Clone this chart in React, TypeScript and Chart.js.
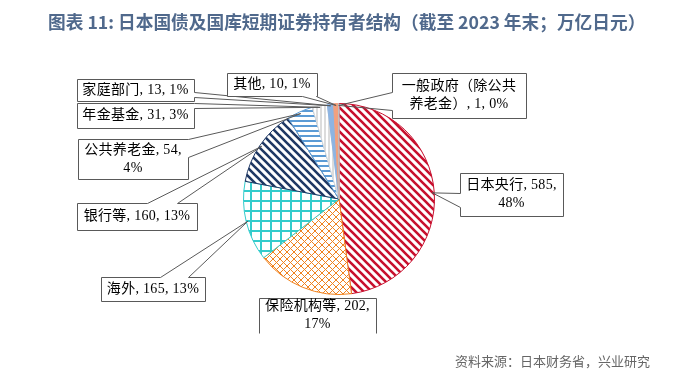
import React, { useEffect, useRef } from 'react';
import { Chart, registerables } from 'chart.js';

Chart.register(...registerables);

// ---- data ----
const categories = [
  '日本央行',
  '保险机构等',
  '海外',
  '银行等',
  '公共养老金',
  '年金基金',
  '家庭部门',
  '其他',
  '一般政府（除公共养老金）',
];
const values = [585, 202, 165, 160, 54, 31, 13, 10, 1];
const percentLabels = ['48%', '17%', '13%', '13%', '4%', '3%', '1%', '1%', '0%'];

const TITLE = '图表 11: 日本国债及国库短期证券持有者结构（截至 2023 年末；万亿日元）';
const SOURCE = '资料来源：日本财务省，兴业研究';

// ---- styles ----
type PatternKind = 'diagDown' | 'crossDiag' | 'grid' | 'hstripe' | 'vstripe' | 'solid';
const sliceStyles: { kind: PatternKind; color: string }[] = [
  { kind: 'diagDown', color: '#C8102E' },
  { kind: 'crossDiag', color: '#F0821E' },
  { kind: 'grid', color: '#33CCCC' },
  { kind: 'diagDown', color: '#1F3864' },
  { kind: 'hstripe', color: '#5B9BD5' },
  { kind: 'vstripe', color: '#DCDCDC' },
  { kind: 'solid', color: '#8DB4E2' },
  { kind: 'solid', color: '#F2A07E' },
  { kind: 'solid', color: '#BFBFBF' },
];

type Side = 'left' | 'right' | 'top' | 'bottom' | null;
const callouts: {
  box: [number, number, number, number];
  side: Side;
  base?: [number, number];
  split: null | 'pct' | number;
  openBottom?: boolean;
}[] = [
  { box: [460, 173, 563, 216], side: 'left', base: [193, 207], split: 'pct' },
  { box: [259, 298, 376, 333], side: null, split: 'pct', openBottom: true },
  { box: [101, 277, 205, 301], side: 'top', base: [160, 188], split: null },
  { box: [77, 203, 197, 230], side: 'top', base: [147, 177], split: null },
  { box: [78, 139, 188, 179], side: 'right', base: [139, 157], split: 'pct' },
  { box: [77, 103, 194, 128], side: 'right', base: [103, 108], split: null },
  { box: [77, 79, 194, 101], side: 'right', base: [92, 97], split: null },
  { box: [227, 73, 317, 96], side: 'bottom', base: [302, 316], split: null },
  { box: [392, 73, 526, 118], side: 'left', base: [92, 110], split: 8 },
];

function labelLines(i: number): string[] {
  const full = `${categories[i]}, ${values[i]}, ${percentLabels[i]}`;
  const sp = callouts[i].split;
  if (sp === 'pct') return [`${categories[i]}, ${values[i]},`, percentLabels[i]];
  if (typeof sp === 'number') return [full.slice(0, sp), full.slice(sp)];
  return [full];
}

function makePattern(kind: PatternKind, fg: string): CanvasPattern | string {
  if (kind === 'solid') return fg;
  const c = document.createElement('canvas');
  let s = 8;
  if (kind === 'crossDiag') s = 7;
  if (kind === 'grid') s = 10;
  if (kind === 'hstripe') s = 5;
  if (kind === 'vstripe') s = 4;
  c.width = s;
  c.height = s;
  const g = c.getContext('2d')!;
  g.fillStyle = '#ffffff';
  g.fillRect(0, 0, s, s);
  g.strokeStyle = fg;
  g.fillStyle = fg;
  if (kind === 'diagDown') {
    g.lineWidth = 2.6;
    g.beginPath();
    for (let k = -1; k <= 1; k++) {
      g.moveTo(k * s - 1, -1);
      g.lineTo(k * s + s + 1, s + 1);
    }
    g.stroke();
  } else if (kind === 'crossDiag') {
    g.lineWidth = 1;
    g.beginPath();
    for (let k = -1; k <= 1; k++) {
      g.moveTo(k * s - 1, -1);
      g.lineTo(k * s + s + 1, s + 1);
      g.moveTo(k * s - 1, s + 1);
      g.lineTo(k * s + s + 1, -1);
    }
    g.stroke();
  } else if (kind === 'grid') {
    g.fillRect(0, 0, 2, s);
    g.fillRect(0, 0, s, 2);
  } else if (kind === 'hstripe') {
    g.fillRect(0, 0, s, 2);
  } else if (kind === 'vstripe') {
    g.fillRect(0, 0, 2, s);
  }
  return g.createPattern(c, 'repeat')!;
}

const LABEL_FONT = "14px 'Liberation Serif', 'Noto Sans CJK SC', serif";

const overlayPlugin = {
  id: 'overlay',
  afterDraw(chart: any) {
    const ctx: CanvasRenderingContext2D = chart.ctx;
    ctx.save();
    // title
    ctx.font = "bold 17.7px 'Noto Sans CJK SC', sans-serif";
    ctx.fillStyle = '#50698C';
    ctx.textBaseline = 'middle';
    ctx.textAlign = 'left';
    ctx.fillText(TITLE, 48, 22);
    // source
    ctx.font = "13px 'Noto Sans CJK SC', sans-serif";
    ctx.fillStyle = '#666666';
    ctx.fillText(SOURCE, 455, 361);

    // callouts
    const meta = chart.getDatasetMeta(0);
    callouts.forEach((co, i) => {
      const el = meta.data[i];
      if (!el) return;
      const p = el.getProps(['x', 'y', 'startAngle', 'endAngle', 'outerRadius'], true);
      const mid = (p.startAngle + p.endAngle) / 2;
      const r = p.outerRadius * 0.98;
      const tip = { x: p.x + Math.cos(mid) * r, y: p.y + Math.sin(mid) * r };
      const [bx1, by1, bx2, by2] = co.box;
      const x1 = bx1 + 0.5, y1 = by1 + 0.5, x2 = bx2 + 0.5, y2 = by2 + 0.5;
      ctx.fillStyle = '#ffffff';
      ctx.fillRect(x1, y1, x2 - x1, y2 - y1);
      ctx.strokeStyle = '#595959';
      ctx.lineWidth = 1;
      ctx.beginPath();
      if (co.openBottom) {
        ctx.moveTo(x1, y2);
        ctx.lineTo(x1, y1);
        ctx.lineTo(x2, y1);
        ctx.lineTo(x2, y2);
        ctx.stroke();
      } else {
        const b = co.base || [0, 0];
        ctx.moveTo(x1, y1);
        if (co.side === 'top') {
          ctx.lineTo(b[0] + 0.5, y1);
          ctx.lineTo(tip.x, tip.y);
          ctx.lineTo(b[1] + 0.5, y1);
        }
        ctx.lineTo(x2, y1);
        if (co.side === 'right') {
          ctx.lineTo(x2, b[0] + 0.5);
          ctx.lineTo(tip.x, tip.y);
          ctx.lineTo(x2, b[1] + 0.5);
        }
        ctx.lineTo(x2, y2);
        if (co.side === 'bottom') {
          ctx.lineTo(b[1] + 0.5, y2);
          ctx.lineTo(tip.x, tip.y);
          ctx.lineTo(b[0] + 0.5, y2);
        }
        ctx.lineTo(x1, y2);
        if (co.side === 'left') {
          ctx.lineTo(x1, b[1] + 0.5);
          ctx.lineTo(tip.x, tip.y);
          ctx.lineTo(x1, b[0] + 0.5);
        }
        ctx.closePath();
        ctx.stroke();
      }
      // text
      const lines = labelLines(i);
      ctx.font = LABEL_FONT;
      (ctx as any).letterSpacing = '0.3px';
      ctx.fillStyle = '#000000';
      ctx.textAlign = 'center';
      ctx.textBaseline = 'middle';
      const cx = (bx1 + bx2) / 2;
      const cy = (by1 + by2) / 2;
      const lh = 18;
      lines.forEach((t, j) => {
        ctx.fillText(t, cx, cy + (j - (lines.length - 1) / 2) * lh);
      });
      (ctx as any).letterSpacing = '0px';
    });
    ctx.restore();
  },
};

export default function App() {
  const ref = useRef<HTMLCanvasElement | null>(null);
  useEffect(() => {
    document.body.style.margin = '0';
    const canvas = ref.current!;
    const bg = sliceStyles.map((s) => makePattern(s.kind, s.color));
    const chart = new Chart(canvas, {
      type: 'pie',
      data: {
        labels: categories,
        datasets: [
          {
            data: values,
            backgroundColor: bg as any,
            borderColor: sliceStyles.map((s) => s.color),
            borderWidth: 1,
          },
        ],
      },
      options: {
        animation: false,
        responsive: false,
        devicePixelRatio: 1,
        layout: { padding: { left: 243, right: 257, top: 103, bottom: 85 } },
        plugins: {
          legend: { display: false },
          tooltip: { enabled: false },
          title: { display: false },
        },
      },
      plugins: [overlayPlugin],
    });
    return () => chart.destroy();
  }, []);
  return (
    <div style={{ width: 692, height: 380, background: '#fff' }}>
      <canvas ref={ref} width={692} height={380} style={{ display: 'block' }} />
    </div>
  );
}
